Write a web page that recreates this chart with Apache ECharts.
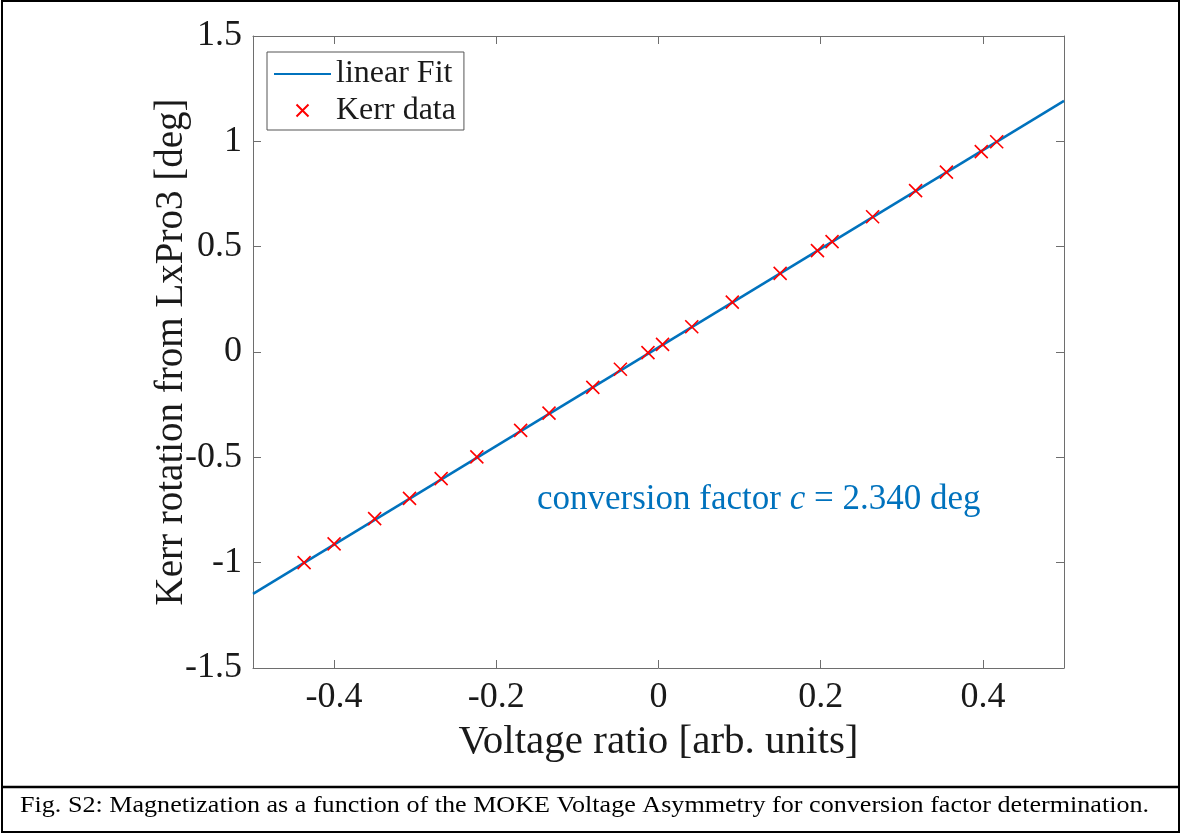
<!DOCTYPE html>
<html>
<head>
<meta charset="utf-8">
<script src="https://cdn.jsdelivr.net/npm/echarts@6/dist/echarts.min.js"></script>
<style>
  html, body { margin: 0; padding: 0; background: #ffffff; }
  #chart { width: 1181px; height: 834px; }
</style>
</head>
<body>
<div id="chart"></div>
<script>
// Measured Kerr rotation against the MOKE voltage ratio
const voltageRatio = [
  -0.437, -0.400, -0.350, -0.307, -0.268, -0.224, -0.170, -0.135,
  -0.081, -0.047, -0.013, 0.005, 0.041, 0.091, 0.150, 0.196,
  0.214, 0.264, 0.317, 0.355, 0.398, 0.417
];
const kerrRotation = [
  -1.000, -0.911, -0.791, -0.695, -0.601, -0.498, -0.372, -0.290,
  -0.168, -0.082, -0.003, 0.036, 0.120, 0.237, 0.373, 0.481,
  0.524, 0.642, 0.766, 0.854, 0.951, 0.998
];

// End points of the linear fit across the axis range
const fitX = [-0.5, 0.5];
const fitY = [-1.148, 1.192];

// Tick positions
const xTickValues = [-0.4, -0.2, 0, 0.2, 0.4];
const yTickValues = [-1.5, -1, -0.5, 0, 0.5, 1, 1.5];

const SERIF = '"Liberation Serif", "DejaVu Serif", serif';
const AXIS_GREY = '#6e6e6e';
const TEXT_DARK = '#1a1a1a';
const FIT_BLUE = '#0072BD';
const DATA_RED = '#ff0000';

const chart = echarts.init(document.getElementById('chart'), null, { renderer: 'canvas' });

const fitData = fitX.map((x, i) => [x, fitY[i]]);
const kerrData = voltageRatio.map((x, i) => [x, kerrRotation[i]]);

const crossPath = 'path://M0,0L10,10M10,0L0,10';
// same cross, with empty margin so the legend draws it smaller
const crossLegendPath = 'path://M0,0M28,28M8,8L20,20M20,8L8,20';

function xAxisCfg(showLabels, position) {
  return {
    type: 'value', min: -0.5, max: 0.5, position: position,
    axisLine: { show: true, onZero: false, lineStyle: { color: AXIS_GREY, width: 1 } },
    axisTick: { show: true, inside: true, length: 8, customValues: xTickValues,
                lineStyle: { color: AXIS_GREY, width: 1 } },
    axisLabel: { show: showLabels, customValues: xTickValues, margin: 12,
                 fontFamily: SERIF, fontSize: 36, color: TEXT_DARK },
    splitLine: { show: false },
    name: showLabels ? 'Voltage ratio [arb. units]' : '',
    nameLocation: 'middle', nameGap: 54, nameMoveOverlap: false,
    nameTextStyle: { fontFamily: SERIF, fontSize: 41, color: TEXT_DARK }
  };
}
function yAxisCfg(showLabels, position) {
  return {
    type: 'value', min: -1.5, max: 1.5, interval: 0.5, position: position,
    axisLine: { show: true, onZero: false, lineStyle: { color: AXIS_GREY, width: 1 } },
    axisTick: { show: true, inside: true, length: 8, customValues: yTickValues,
                lineStyle: { color: AXIS_GREY, width: 1 } },
    axisLabel: { show: showLabels, customValues: yTickValues, margin: 11,
                 fontFamily: SERIF, fontSize: 36, color: TEXT_DARK },
    splitLine: { show: false },
    name: showLabels ? 'Kerr rotation from LxPro3 [deg]' : '',
    nameLocation: 'middle', nameGap: 62, nameMoveOverlap: false,
    nameTextStyle: { fontFamily: SERIF, fontSize: 39, color: TEXT_DARK }
  };
}

chart.setOption({
  animation: false,
  backgroundColor: '#ffffff',
  grid: { left: 253, top: 36, width: 811, height: 632, containLabel: false },
  xAxis: [xAxisCfg(true, 'bottom'), xAxisCfg(false, 'top')],
  yAxis: [yAxisCfg(true, 'left'), yAxisCfg(false, 'right')],
  legend: {
    orient: 'vertical',
    left: 267, top: 52,
    padding: [6, 8, 3, 6],
    itemWidth: 57, itemHeight: 28, itemGap: 4,
    backgroundColor: '#ffffff',
    borderColor: '#555555', borderWidth: 1, borderRadius: 0,
    textStyle: { fontFamily: SERIF, fontSize: 32, color: TEXT_DARK },
    data: [
      { name: 'linear Fit', itemStyle: { opacity: 0 } },
      { name: 'Kerr data', icon: crossLegendPath }
    ]
  },
  series: [
    {
      name: 'linear Fit', type: 'line', data: fitData,
      symbol: 'none', silent: true,
      lineStyle: { color: FIT_BLUE, width: 2.5 },
      itemStyle: { color: FIT_BLUE },
      z: 2
    },
    {
      name: 'Kerr data', type: 'scatter', data: kerrData,
      symbol: crossPath, symbolSize: 13, silent: true,
      itemStyle: { color: 'none', borderColor: DATA_RED, borderWidth: 1.6, opacity: 1 },
      z: 3
    }
  ],
  graphic: [
    // outer frame of the figure
    { type: 'rect', shape: { x: 2, y: 1, width: 1177, height: 831 },
      style: { fill: 'none', stroke: '#000', lineWidth: 2 }, silent: true },
    // rule above the caption
    { type: 'line', shape: { x1: 2, y1: 787, x2: 1179, y2: 787 },
      style: { stroke: '#000', lineWidth: 2.5 }, silent: true },
    {
      type: 'text', x: 20, y: 794, scaleX: 1.135, silent: true,
      style: {
        text: 'Fig. S2: Magnetization as a function of the MOKE Voltage Asymmetry for conversion factor determination.',
        fontFamily: SERIF, fontSize: 23, fill: '#000'
      }
    },
    {
      type: 'text', left: 537, top: 482, silent: true,
      style: {
        text: '{n|conversion factor }{i|c}{n| = 2.340 deg}',
        rich: {
          n: { fontFamily: SERIF, fontSize: 35, fill: FIT_BLUE, color: FIT_BLUE },
          i: { fontFamily: SERIF, fontSize: 35, fontStyle: 'italic', fill: FIT_BLUE, color: FIT_BLUE }
        }
      }
    }
  ]
});
</script>
</body>
</html>
